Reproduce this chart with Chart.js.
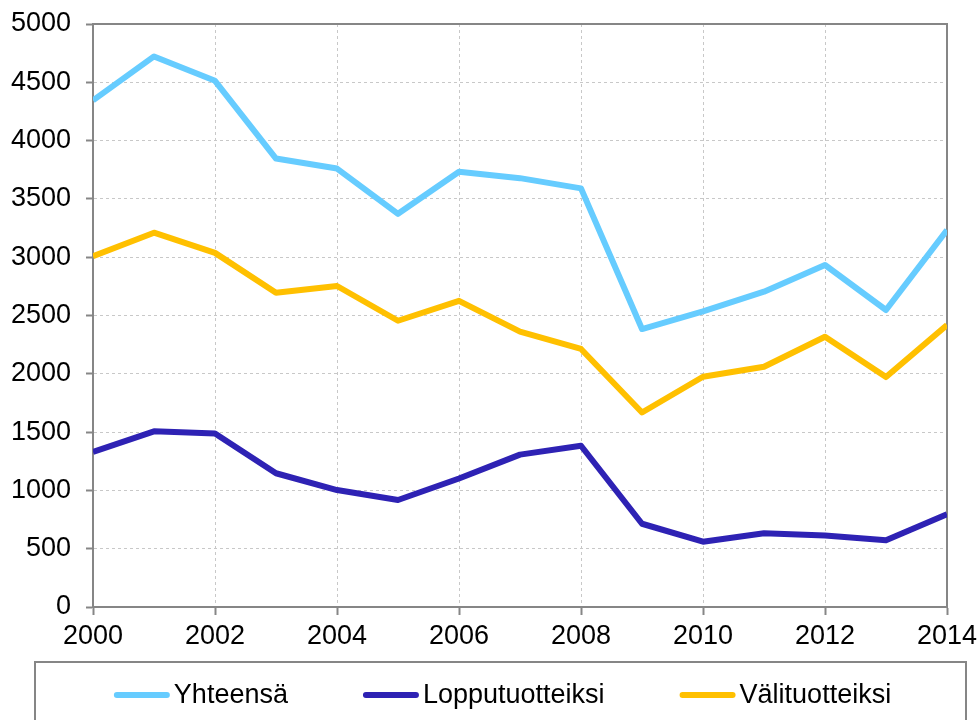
<!DOCTYPE html>
<html>
<head>
<meta charset="utf-8">
<script src="https://cdn.jsdelivr.net/npm/chart.js@4/dist/chart.umd.min.js"></script>
<style>
  html, body { margin: 0; padding: 0; background: #ffffff; }
  #wrap { position: relative; width: 979px; height: 720px; }
</style>
</head>
<body>
<div id="wrap"><canvas id="chart"></canvas></div>
<script>
/* ------------------------------------------------------------
   Data
------------------------------------------------------------ */
var YEARS = [2000, 2001, 2002, 2003, 2004, 2005, 2006, 2007,
             2008, 2009, 2010, 2011, 2012, 2013, 2014];

var YHTEENSA = [4345, 4722, 4513, 3846, 3760, 3372, 3733, 3678,
                3590, 2384, 2535, 2704, 2933, 2547, 3233];

var LOPPUTUOTTEIKSI = [1330, 1507, 1488, 1147, 1003, 918, 1102, 1307,
                       1383, 714, 560, 633, 614, 572, 796];

var VALITUOTTEIKSI = [3008, 3210, 3037, 2695, 2753, 2455, 2626, 2362,
                      2213, 1668, 1975, 2061, 2318, 1972, 2418];

var SERIES_LABELS = ['Yhteensä', 'Lopputuotteiksi', 'Välituotteiksi'];

var X_MIN = 2000, X_MAX = 2014, X_STEP = 2;
var Y_MIN = 0, Y_MAX = 5000, Y_STEP = 500;

/* ------------------------------------------------------------
   Styles
------------------------------------------------------------ */
var COLORS = {
  total:  '#66CCFF',
  final:  '#2E22B4',
  inter:  '#FFC000',
  axis:   '#868686',
  grid:   '#C8C8C8',
  text:   '#000000'
};
var FONT = 'Arial, "Liberation Sans", sans-serif';
var FONT_SIZE = 27;
var LINE_W = 6;

function toPoints(values) {
  return YEARS.map(function (y, i) { return { x: y, y: values[i] }; });
}

function lineSet(label, values, color) {
  return {
    label: label,
    data: toPoints(values),
    borderColor: color,
    backgroundColor: color,
    borderWidth: LINE_W,
    pointRadius: 0,
    tension: 0,
    borderJoinStyle: 'round',
    clip: 0
  };
}

/* ------------------------------------------------------------
   Plugin: solid frame on the top/right of the plot area
------------------------------------------------------------ */
var framePlugin = {
  id: 'frame',
  beforeDatasetsDraw: function (chart) {
    var a = chart.chartArea, ctx = chart.ctx;
    ctx.save();
    ctx.strokeStyle = COLORS.axis;
    ctx.lineWidth = 2;
    ctx.beginPath();
    ctx.moveTo(a.left, a.top);
    ctx.lineTo(a.right, a.top);
    ctx.lineTo(a.right, a.bottom);
    ctx.stroke();
    ctx.restore();
  }
};

/* ------------------------------------------------------------
   Plugin: boxed legend under the x axis (Excel style)
------------------------------------------------------------ */
var boxLegendPlugin = {
  id: 'boxLegend',
  afterDraw: function (chart, args, opts) {
    var ctx = chart.ctx;
    var sets = chart.data.datasets;
    ctx.save();
    ctx.strokeStyle = COLORS.axis;
    ctx.lineWidth = 2;
    ctx.strokeRect(opts.left, opts.top, opts.width, opts.height);

    ctx.font = FONT_SIZE + 'px ' + FONT;
    ctx.textBaseline = 'middle';
    ctx.fillStyle = COLORS.text;

    var widths = sets.map(function (ds) {
      return opts.sample + opts.textGap + ctx.measureText(ds.label).width;
    });
    var total = widths.reduce(function (s, w) { return s + w; }, 0) +
                opts.itemGap * (sets.length - 1);
    var x = opts.left + (opts.width - total) / 2 + opts.shift;
    var y = opts.lineY;

    sets.forEach(function (ds, i) {
      ctx.strokeStyle = ds.borderColor;
      ctx.lineWidth = LINE_W;
      ctx.lineCap = 'round';
      ctx.beginPath();
      ctx.moveTo(x + 3, y);
      ctx.lineTo(x + opts.sample - 3, y);
      ctx.stroke();
      ctx.fillText(ds.label, x + opts.sample + opts.textGap, y + 1);
      x += widths[i] + opts.itemGap;
    });
    ctx.restore();
  }
};

new Chart(document.getElementById('chart'), {
  type: 'line',
  data: {
    datasets: [
      lineSet(SERIES_LABELS[0], YHTEENSA, COLORS.total),
      lineSet(SERIES_LABELS[1], LOPPUTUOTTEIKSI, COLORS.final),
      lineSet(SERIES_LABELS[2], VALITUOTTEIKSI, COLORS.inter)
    ]
  },
  options: {
    responsive: true,
    maintainAspectRatio: false,
    animation: false,
    layout: { padding: { top: 24, right: 32, bottom: 0, left: 0 } },
    plugins: {
      legend: { display: false },
      tooltip: { enabled: false },
      boxLegend: {
        left: 35, top: 662, width: 931, height: 80,
        lineY: 695, sample: 56, textGap: 4, itemGap: 75, shift: 2
      }
    },
    scales: {
      x: {
        type: 'linear',
        min: X_MIN,
        max: X_MAX,
        afterFit: function (scale) {
          scale.height = 113;
          scale.paddingLeft = 0;
          scale.paddingRight = 0;
        },
        ticks: {
          stepSize: X_STEP,
          color: COLORS.text,
          font: { family: FONT, size: FONT_SIZE },
          padding: 5,
          maxRotation: 0,
          callback: function (v) { return String(v); }
        },
        grid: {
          color: COLORS.grid,
          lineWidth: 1,
          tickLength: 8,
          tickColor: COLORS.axis,
          tickWidth: 2
        },
        border: { color: COLORS.axis, width: 2, dash: [3, 3] }
      },
      y: {
        min: Y_MIN,
        max: Y_MAX,
        afterFit: function (scale) {
          scale.width = 93;
          scale.paddingTop = 0;
          scale.paddingBottom = 0;
        },
        ticks: {
          stepSize: Y_STEP,
          color: COLORS.text,
          font: { family: FONT, size: FONT_SIZE },
          padding: 15,
          callback: function (v) { return String(v); }
        },
        grid: {
          color: COLORS.grid,
          lineWidth: 1,
          tickLength: 7,
          tickColor: COLORS.axis,
          tickWidth: 2
        },
        border: { color: COLORS.axis, width: 2, dash: [3, 3] }
      }
    }
  },
  plugins: [framePlugin, boxLegendPlugin]
});
</script>
</body>
</html>
